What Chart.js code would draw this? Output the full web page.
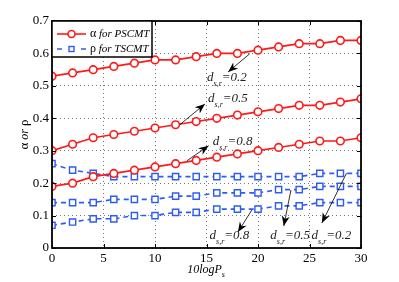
<!DOCTYPE html>
<html>
<head>
<meta charset="utf-8">
<script src="https://cdn.jsdelivr.net/npm/chart.js@4.4.1/dist/chart.umd.min.js"></script>
<style>html,body{margin:0;padding:0;background:#fff}</style>
</head>
<body>
<canvas id="c" width="399" height="282"></canvas>
<script>
// x axis: 10logPs
const powerDb = [0, 2, 4, 6, 8, 10, 12, 14, 16, 18, 20, 22, 24, 26, 28, 30];
const xTicks = [0, 5, 10, 15, 20, 25, 30];
const yTicks = [0, 0.1, 0.2, 0.3, 0.4, 0.5, 0.6, 0.7];

// alpha for PSCMT, d_s,r = 0.2 / 0.5 / 0.8
const alphaD02 = [0.53, 0.54, 0.55, 0.56, 0.57, 0.58, 0.58, 0.59, 0.60, 0.60, 0.61, 0.62, 0.63, 0.63, 0.64, 0.64];
const alphaD05 = [0.30, 0.32, 0.34, 0.35, 0.36, 0.37, 0.38, 0.39, 0.40, 0.41, 0.42, 0.43, 0.44, 0.44, 0.45, 0.46];
const alphaD08 = [0.19, 0.20, 0.22, 0.23, 0.24, 0.25, 0.26, 0.27, 0.28, 0.29, 0.30, 0.31, 0.32, 0.33, 0.33, 0.34];
// rho for TSCMT
const rhoD02 = [0.26, 0.24, 0.23, 0.22, 0.22, 0.22, 0.22, 0.22, 0.22, 0.22, 0.22, 0.22, 0.22, 0.23, 0.23, 0.23];
const rhoD05 = [0.14, 0.14, 0.14, 0.15, 0.15, 0.15, 0.16, 0.16, 0.17, 0.17, 0.17, 0.18, 0.18, 0.19, 0.19, 0.19];
const rhoD08 = [0.07, 0.08, 0.09, 0.09, 0.10, 0.10, 0.11, 0.11, 0.12, 0.12, 0.12, 0.13, 0.13, 0.14, 0.14, 0.14];

const RED = '#ff1a1a';
const BLUE = '#2f5cf0';
const SERIF = "'Liberation Serif', 'Times New Roman', serif";

const pts = arr => arr.map((v, i) => ({x: powerDb[i], y: v}));

function alphaSet(arr) {
  return {
    data: pts(arr), borderColor: RED, borderWidth: 1.7,
    pointStyle: 'circle', pointRadius: 3.8, pointBorderWidth: 1.6,
    pointBorderColor: RED, pointBackgroundColor: '#fff'
  };
}
function rhoSet(arr) {
  return {
    data: pts(arr), borderColor: BLUE, borderWidth: 1.6, borderDash: [5, 4],
    pointStyle: 'rect', pointRadius: 4.4, pointBorderWidth: 1.4,
    pointBorderColor: BLUE, pointBackgroundColor: '#fff'
  };
}

// annotation arrows: text anchor + arrow tail/head, in data units
const notes = [
  {val: '0.2', tx: 15.05, ty: 0.514, from: [19.2, 0.599], to: [17.1, 0.543]},
  {val: '0.5', tx: 15.15, ty: 0.451, from: [12.4, 0.380], to: [14.85, 0.444]},
  {val: '0.8', tx: 15.6, ty: 0.318, from: [13.1, 0.269], to: [15.2, 0.315]},
  {val: '0.8', tx: 15.3, ty: 0.028, from: [19.4, 0.117], to: [18.05, 0.049]},
  {val: '0.5', tx: 21.2, ty: 0.028, from: [23.2, 0.179], to: [22.5, 0.068]},
  {val: '0.2', tx: 25.2, ty: 0.028, from: [28.6, 0.231], to: [26.2, 0.077]}
];

function arrow(ctx, x1, y1, x2, y2) {
  ctx.save();
  ctx.strokeStyle = '#000';
  ctx.fillStyle = '#000';
  ctx.lineWidth = 0.8;
  ctx.beginPath();
  ctx.moveTo(x1, y1);
  ctx.lineTo(x2, y2);
  ctx.stroke();
  const a = Math.atan2(y2 - y1, x2 - x1);
  const len = 10, hw = 4;
  ctx.beginPath();
  ctx.moveTo(x2, y2);
  ctx.lineTo(x2 - len * Math.cos(a) + hw * Math.sin(a), y2 - len * Math.sin(a) - hw * Math.cos(a));
  ctx.lineTo(x2 - len * 0.7 * Math.cos(a), y2 - len * 0.7 * Math.sin(a));
  ctx.lineTo(x2 - len * Math.cos(a) - hw * Math.sin(a), y2 - len * Math.sin(a) + hw * Math.cos(a));
  ctx.closePath();
  ctx.fill();
  ctx.restore();
}

function dsr(ctx, x, y, val) {
  ctx.save();
  ctx.fillStyle = '#222';
  ctx.textBaseline = 'alphabetic';
  ctx.textAlign = 'left';
  ctx.font = 'italic 13px ' + SERIF;
  ctx.fillText('d', x, y);
  let w = ctx.measureText('d').width;
  ctx.font = 'italic 8px ' + SERIF;
  ctx.fillText('s,r', x + w, y + 5);
  w += ctx.measureText('s,r').width;
  ctx.font = 'italic 13px ' + SERIF;
  ctx.fillText('=' + val, x + w, y);
  ctx.restore();
}

const decor = {
  id: 'decor',
  afterDraw(chart) {
    const {ctx, chartArea: a, scales: {x, y}} = chart;
    ctx.save();
    // inward ticks
    ctx.strokeStyle = '#000';
    ctx.lineWidth = 1;
    ctx.beginPath();
    xTicks.forEach(t => {
      const px = Math.round(x.getPixelForValue(t)) + 0.5;
      ctx.moveTo(px, a.bottom); ctx.lineTo(px, a.bottom - 4);
      ctx.moveTo(px, a.top); ctx.lineTo(px, a.top + 4);
    });
    yTicks.forEach(t => {
      const py = Math.round(y.getPixelForValue(t)) + 0.5;
      ctx.moveTo(a.left, py); ctx.lineTo(a.left + 4, py);
      ctx.moveTo(a.right, py); ctx.lineTo(a.right - 4, py);
    });
    ctx.stroke();
    // frame
    ctx.lineWidth = 1.8;
    ctx.strokeRect(a.left, a.top, a.right - a.left, a.bottom - a.top);

    // annotations
    notes.forEach(n => {
      arrow(ctx, x.getPixelForValue(n.from[0]), y.getPixelForValue(n.from[1]),
        x.getPixelForValue(n.to[0]), y.getPixelForValue(n.to[1]));
      dsr(ctx, x.getPixelForValue(n.tx), y.getPixelForValue(n.ty), n.val);
    });

    // legend
    const lx = a.left, ly = a.top, lw = 100, lh = 36;
    ctx.fillStyle = '#fff';
    ctx.fillRect(lx, ly, lw, lh);
    ctx.lineWidth = 1.5;
    ctx.strokeStyle = '#000';
    ctx.strokeRect(lx, ly, lw, lh);
    const r1 = ly + 13, r2 = ly + 28;
    ctx.strokeStyle = RED;
    ctx.lineWidth = 1.6;
    ctx.beginPath(); ctx.moveTo(lx + 5, r1); ctx.lineTo(lx + 34, r1); ctx.stroke();
    ctx.fillStyle = '#fff';
    ctx.beginPath(); ctx.arc(lx + 19.5, r1, 3.5, 0, Math.PI * 2); ctx.fill(); ctx.stroke();
    ctx.strokeStyle = BLUE;
    ctx.beginPath();
    ctx.moveTo(lx + 5, r2); ctx.lineTo(lx + 10, r2);
    ctx.moveTo(lx + 29, r2); ctx.lineTo(lx + 34, r2);
    ctx.stroke();
    ctx.lineWidth = 1.4;
    ctx.strokeRect(lx + 17, r2 - 2.5, 5, 5);
    ctx.fillStyle = '#000';
    ctx.textBaseline = 'middle';
    ctx.textAlign = 'left';
    [['\u03b1', ' for PSCMT', r1], ['\u03c1', ' for TSCMT', r2]].forEach(([g, s, yy]) => {
      ctx.font = '12px ' + SERIF;
      ctx.fillText(g, lx + 38, yy);
      const gw = ctx.measureText(g).width;
      ctx.font = 'italic 11px ' + SERIF;
      ctx.fillText(s, lx + 38 + gw, yy);
    });

    // axis titles
    ctx.textBaseline = 'alphabetic';
    ctx.font = 'italic 12px ' + SERIF;
    const t1 = '10logP';
    const tw = ctx.measureText(t1).width;
    const cx = (a.left + a.right) / 2;
    ctx.fillText(t1, cx - tw / 2 - 2, 273);
    ctx.font = 'italic 8px ' + SERIF;
    ctx.fillText('s', cx + tw / 2 - 2, 277);

    ctx.save();
    ctx.translate(28, (a.top + a.bottom) / 2);
    ctx.rotate(-Math.PI / 2);
    ctx.textAlign = 'left';
    const parts = [['\u03b1', '13px '], [' or ', 'italic 12px '], ['\u03c1', '13px ']];
    let total = 0;
    parts.forEach(([s, f]) => { ctx.font = f + SERIF; total += ctx.measureText(s).width; });
    let px = -total / 2;
    parts.forEach(([s, f]) => {
      ctx.font = f + SERIF;
      ctx.fillText(s, px, 0);
      px += ctx.measureText(s).width;
    });
    ctx.restore();
    ctx.restore();
  }
};

new Chart(document.getElementById('c'), {
  type: 'line',
  data: {
    datasets: [
      alphaSet(alphaD02), alphaSet(alphaD05), alphaSet(alphaD08),
      rhoSet(rhoD02), rhoSet(rhoD05), rhoSet(rhoD08)
    ]
  },
  options: {
    responsive: false,
    animation: false,
    layout: {padding: {top: 21, right: 38, left: 0, bottom: 0}},
    plugins: {legend: {display: false}, tooltip: {enabled: false}},
    scales: {
      x: {
        type: 'linear', min: 0, max: 30,
        afterFit: s => { s.height = 34; },
        afterBuildTicks: s => { s.ticks = xTicks.map(v => ({value: v})); },
        ticks: {color: '#000', padding: 3, font: {family: SERIF, size: 13}, callback: v => String(v)},
        grid: {color: '#777', lineWidth: 1, drawTicks: false, tickLength: 0},
        border: {display: false, dash: [1, 3]}
      },
      y: {
        min: 0, max: 0.7,
        afterFit: s => { s.width = 52; },
        afterBuildTicks: s => { s.ticks = yTicks.map(v => ({value: v})); },
        ticks: {color: '#000', padding: 3, font: {family: SERIF, size: 13},
          callback: v => v === 0 ? '0' : v.toFixed(1)},
        grid: {color: '#777', lineWidth: 1, drawTicks: false, tickLength: 0},
        border: {display: false, dash: [1, 3]}
      }
    }
  },
  plugins: [decor]
});
</script>
</body>
</html>
